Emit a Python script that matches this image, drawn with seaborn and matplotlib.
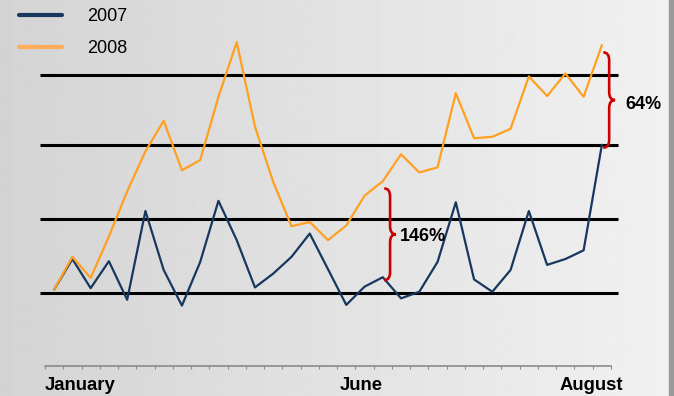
import numpy as np
import pandas as pd
import matplotlib.pyplot as plt
import seaborn as sns
from matplotlib.patches import Rectangle, PathPatch
from matplotlib.path import Path

# values (one point per period, Jan .. Aug)
periods = list(range(31))
sales_2007 = [0.05, 0.47, 0.07, 0.44, -0.09, 1.13, 0.32, -0.17, 0.43, 1.27,
              0.73, 0.08, 0.27, 0.50, 0.82, 0.33, -0.16, 0.09, 0.22, -0.07,
              0.02, 0.43, 1.25, 0.19, 0.02, 0.32, 1.13, 0.39, 0.47, 0.59, 2.04]
sales_2008 = [0.05, 0.50, 0.21, 0.78, 1.40, 1.95, 2.37, 1.69, 1.83, 2.70,
              3.45, 2.29, 1.53, 0.92, 0.98, 0.73, 0.93, 1.34, 1.54, 1.91,
              1.66, 1.73, 2.75, 2.13, 2.15, 2.26, 2.98, 2.71, 3.02, 2.70, 3.41]
ref_levels = [0, 1.02, 2.04, 3.0]
month_labels = ["January", "June", "August"]
month_pos = [-0.5, 16.8, 29.4]
month_ha = ["left", "center", "center"]
# growth braces: (period index, label)
braces = [(18, "146%"), (30, "64%")]
brace_text_offset = [(4, -2), (10, -4)]  # pixels

colors = {"2007": "#17375E", "2008": "#FFA020"}

df = pd.DataFrame({
    "period": periods * 2,
    "value": sales_2007 + sales_2008,
    "year": ["2007"] * len(periods) + ["2008"] * len(periods),
})

sns.set_theme(style="white")
plt.rcParams["font.family"] = ["Liberation Sans", "DejaVu Sans"]

W, H = 674, 396
fig = plt.figure(figsize=(W / 100, H / 100), dpi=100)

# gray gradient background + darker edge strip on the right
bg = fig.add_axes([0, 0, 1, 1], zorder=0)
bg.imshow(np.linspace(0.83, 0.945, 256)[None, :], cmap="gray", vmin=0, vmax=1,
          aspect="auto", extent=[0, 1, 0, 1])
bg.axis("off")
fig.add_artist(Rectangle((669 / W, 0), 5 / W, 1, transform=fig.transFigure,
                         color="#9a9a9a", zorder=0.5))

ax = fig.add_axes([45 / W, 30 / H, 566 / W, 366 / H], zorder=1)
ax.patch.set_alpha(0)

ax.hlines(ref_levels, -0.78, 30.9, colors="black", lw=2.2, clip_on=False, zorder=1.5)

sns.lineplot(data=df, x="period", y="value", hue="year", hue_order=["2007", "2008"],
             palette=colors, linewidth=1.6, ax=ax, zorder=2)

ax.set_xlim(-0.5, 30.5)
ax.set_ylim(-1.0, 4.03)
ax.set_xlabel("")
ax.set_ylabel("")
ax.set_yticks([])
ax.set_xticks(np.arange(-0.5, 31, 1))
ax.set_xticklabels([])
ax.tick_params(axis="x", direction="out", length=2.5, width=0.8, color="#8a8a8a",
               bottom=True)
for s in ["left", "top", "right"]:
    ax.spines[s].set_visible(False)
ax.spines["bottom"].set_color("#8a8a8a")
ax.spines["bottom"].set_linewidth(1.2)

for lab, xp, ha in zip(month_labels, month_pos, month_ha):
    ax.annotate(lab, xy=(xp, 0), xycoords=("data", "axes fraction"),
                xytext=(0, -24), textcoords="offset pixels", ha=ha, va="baseline",
                fontsize=13.3, fontweight="bold", color="black")

# curly braces between the two years
ry = 0.11
for (idx, lab), off in zip(braces, brace_text_offset):
    lo, hi = sales_2007[idx], sales_2008[idx]
    top = hi - 0.1
    bot = lo - 0.04
    mid = (top + bot) / 2
    hx, vx, tx = idx + 0.08, idx + 0.4, idx + 0.72
    verts = [(hx, top), (vx, top), (vx, top - ry),
             (vx, mid + ry), (vx, mid), (tx, mid),
             (vx, mid), (vx, mid - ry),
             (vx, bot + ry), (vx, bot), (hx, bot)]
    codes = [Path.MOVETO, Path.CURVE3, Path.CURVE3,
             Path.LINETO, Path.CURVE3, Path.CURVE3,
             Path.CURVE3, Path.CURVE3,
             Path.LINETO, Path.CURVE3, Path.CURVE3]
    ax.add_patch(PathPatch(Path(verts, codes), fill=False, edgecolor="#CC0000",
                           lw=1.9, clip_on=False, zorder=3))
    ax.annotate(lab, xy=(tx, mid), xycoords="data", xytext=off,
                textcoords="offset pixels", ha="left", va="center",
                fontsize=13, fontweight="bold", color="black", annotation_clip=False)

handles, labels = ax.get_legend_handles_labels()
leg = ax.legend(handles, labels, loc="upper left", bbox_to_anchor=(19 / W, 1 - 8 / H),
                bbox_transform=fig.transFigure, frameon=False, fontsize=13,
                handlelength=2.4, handletextpad=1.4, labelspacing=0.85,
                borderpad=0, borderaxespad=0, labelcolor="black")
for line, c in zip(leg.get_lines(), ["#17375E", "#FFAD5B"]):
    line.set_linewidth(3)
    line.set_color(c)

fig.savefig("out.png", dpi=100)
